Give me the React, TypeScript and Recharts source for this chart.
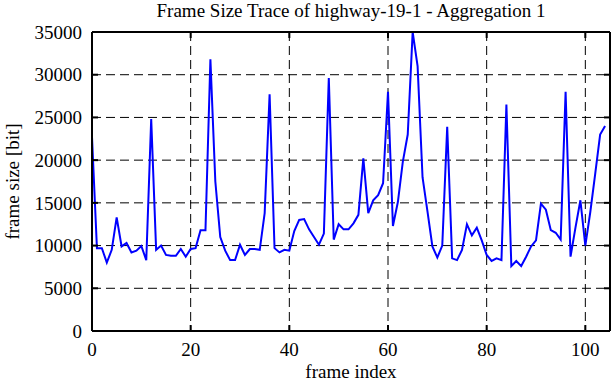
import { LineChart, Line, XAxis, YAxis, CartesianGrid, Label } from "recharts";

// frame sizes [bit], one per frame index 0..104
const frameSizes = [
  22700, 9700, 9700, 8000, 9500, 13300, 9900, 10300, 9200, 9400,
  9950, 8300, 24800, 9500, 10000, 8900, 8800, 8800, 9600, 8700,
  9600, 9700, 11800, 11800, 31800, 17500, 11000, 9400, 8300, 8300,
  10100, 8900, 9600, 9600, 9500, 13800, 27700, 9700, 9200, 9500,
  9400, 11700, 13000, 13100, 11900, 11000, 10100, 11400, 29600, 10700,
  12500, 11900, 11900, 12600, 13600, 20200, 13800, 15300, 15900, 17300,
  28000, 12300, 15100, 19800, 23000, 35000, 31000, 18000, 14000, 9900,
  8600, 10000, 23900, 8500, 8300, 9500, 12500, 11200, 12100, 10600,
  8900, 8200, 8500, 8300, 26500, 7600, 8200, 7600, 8700, 9900,
  10600, 14900, 14200, 11800, 11500, 10700, 28000, 8700, 12100, 15300,
  10000, 13900, 18400, 23000, 24000
];

const xTicks = [0, 20, 40, 60, 80, 100];
const yTicks = [0, 5000, 10000, 15000, 20000, 25000, 30000, 35000];

const data = frameSizes.map((size, i) => ({ frame: i, size }));

const font = "'Liberation Serif', 'DejaVu Serif', serif";
const textStyle = { fontFamily: font, fontSize: 19, fill: "#000" };

export default function App() {
  return (
    <div style={{ position: "absolute", left: 0, top: 0, background: "#fff" }}>
      <LineChart
        width={612}
        height={382}
        data={data}
        margin={{ top: 31, right: 1, bottom: 0, left: 0 }}
      >
        <CartesianGrid
          xAxisId="bottom"
          yAxisId="left"
          stroke="#000"
          strokeWidth={1}
          strokeDasharray="9 5"
        />
        <XAxis
          xAxisId="bottom"
          dataKey="frame"
          type="number"
          domain={[0, 105]}
          ticks={xTicks}
          height={51}
          tickSize={-6}
          tickMargin={18}
          stroke="#000"
          strokeWidth={2}
          tick={textStyle}
          allowDataOverflow
        >
          <Label value="frame index" position="insideBottom" offset={4} style={textStyle} />
        </XAxis>
        <XAxis
          xAxisId="top"
          orientation="top"
          dataKey="frame"
          type="number"
          domain={[0, 105]}
          ticks={xTicks}
          height={1}
          tickSize={-6}
          tickFormatter={() => ""}
          stroke="#000"
          strokeWidth={2}
          allowDataOverflow
        >
          <Label
            value="Frame Size Trace of highway-19-1 - Aggregation 1"
            position="top"
            offset={14}
            style={textStyle}
          />
        </XAxis>
        <YAxis
          yAxisId="left"
          type="number"
          domain={[0, 35000]}
          ticks={yTicks}
          width={92}
          tickSize={-6}
          tickMargin={16}
          stroke="#000"
          strokeWidth={2}
          tick={textStyle}
          allowDataOverflow
        >
          <Label
            value="frame size [bit]"
            angle={-90}
            position="insideLeft"
            offset={12}
            style={{ ...textStyle, textAnchor: "middle" }}
          />
        </YAxis>
        <YAxis
          yAxisId="right"
          orientation="right"
          type="number"
          domain={[0, 35000]}
          ticks={yTicks}
          width={1}
          tickSize={-6}
          tickFormatter={() => ""}
          stroke="#000"
          strokeWidth={2}
          allowDataOverflow
        />
        <Line
          xAxisId="bottom"
          yAxisId="left"
          type="linear"
          dataKey="size"
          stroke="#0000ff"
          strokeWidth={2}
          dot={false}
          isAnimationActive={false}
        />
      </LineChart>
    </div>
  );
}
